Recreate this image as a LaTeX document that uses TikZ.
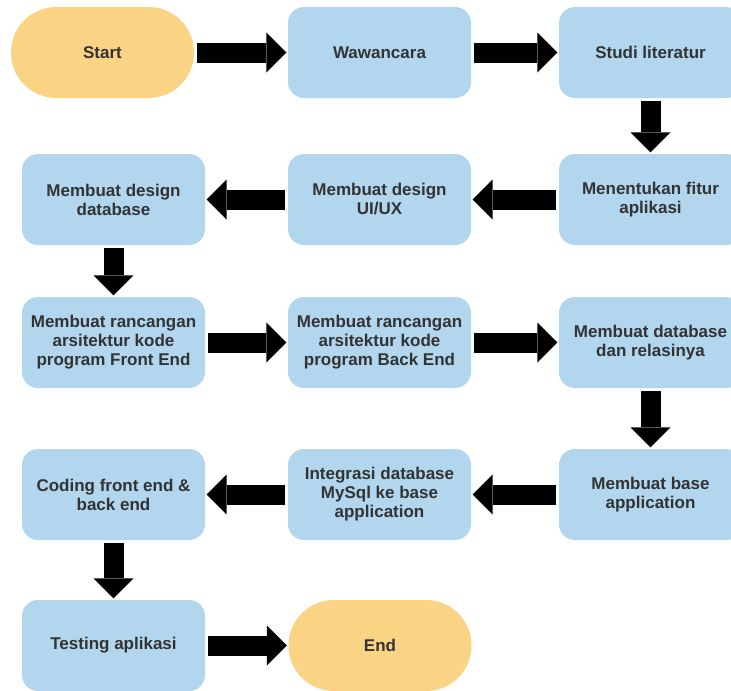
\documentclass[tikz,border=0pt]{standalone}
\usepackage{fontspec}
\setmainfont{Liberation Sans}
\usetikzlibrary{arrows.meta}
\definecolor{stepblue}{HTML}{B1D6EE}
\definecolor{termorange}{HTML}{FAD385}
\definecolor{labelgray}{HTML}{333333}
\begin{document}
\begin{tikzpicture}[x=0.75pt,y=-0.75pt,
  stepbox/.style={rectangle, rounded corners=12pt, fill=stepblue,
    minimum width=137.25pt, minimum height=68.25pt, inner sep=0pt,
    align=center, text=labelgray,
    font=\fontsize{12.75pt}{14.25pt}\selectfont\bfseries},
  termbox/.style={stepbox, fill=termorange, rounded corners=34pt},
  blockarrow/.style={line width=15pt, black,
    -{Triangle[width=30pt,length=15pt,line width=0pt]},
    shorten <=2pt, shorten >=1pt}
]
\useasboundingbox (0,0) rectangle (731,690);

% row 1
\node[termbox] (start) at (102.5,52.5) {Start};
\node[stepbox] (waw)   at (379.5,52.5) {Wawancara};
\node[stepbox] (studi) at (650.5,52.5) {Studi literatur};
% row 2
\node[stepbox] (fitur) at (650.5,199.5) {Menentukan fitur\\aplikasi};
\node[stepbox] (uiux)  at (379.5,199.5) {Membuat design\\UI/UX};
\node[stepbox] (dbdes) at (113.5,199.5) {Membuat design\\database};
% row 3
\node[stepbox] (fe)    at (113.5,342.5) {Membuat rancangan\\arsitektur kode\\program Front End};
\node[stepbox] (be)    at (379.5,342.5) {Membuat rancangan\\arsitektur kode\\program Back End};
\node[stepbox] (db)    at (650.5,342.5) {Membuat database\\dan relasinya};
% row 4
\node[stepbox] (base)  at (650.5,494.5) {Membuat base\\application};
\node[stepbox] (integ) at (379.5,494.5) {Integrasi database\\MySql ke base\\application};
\node[stepbox] (code)  at (113.5,494.5) {Coding front end \&\\back end};
% row 5
\node[stepbox] (test)  at (113.5,645.5) {Testing aplikasi};
\node[termbox] (end)   at (380,645.5) {End};

% flow arrows
\draw[blockarrow] (start.east) -- (waw.west);
\draw[blockarrow] (waw.east) -- (studi.west);
\draw[blockarrow] (studi.south) -- (fitur.north);
\draw[blockarrow] (fitur.west) -- (uiux.east);
\draw[blockarrow] (uiux.west) -- (dbdes.east);
\draw[blockarrow] (dbdes.south) -- (fe.north);
\draw[blockarrow] (fe.east) -- (be.west);
\draw[blockarrow] (be.east) -- (db.west);
\draw[blockarrow] (db.south) -- (base.north);
\draw[blockarrow] (base.west) -- (integ.east);
\draw[blockarrow] (integ.west) -- (code.east);
\draw[blockarrow] (code.south) -- (test.north);
\draw[blockarrow] (test.east) -- (end.west);
\end{tikzpicture}
\end{document}
